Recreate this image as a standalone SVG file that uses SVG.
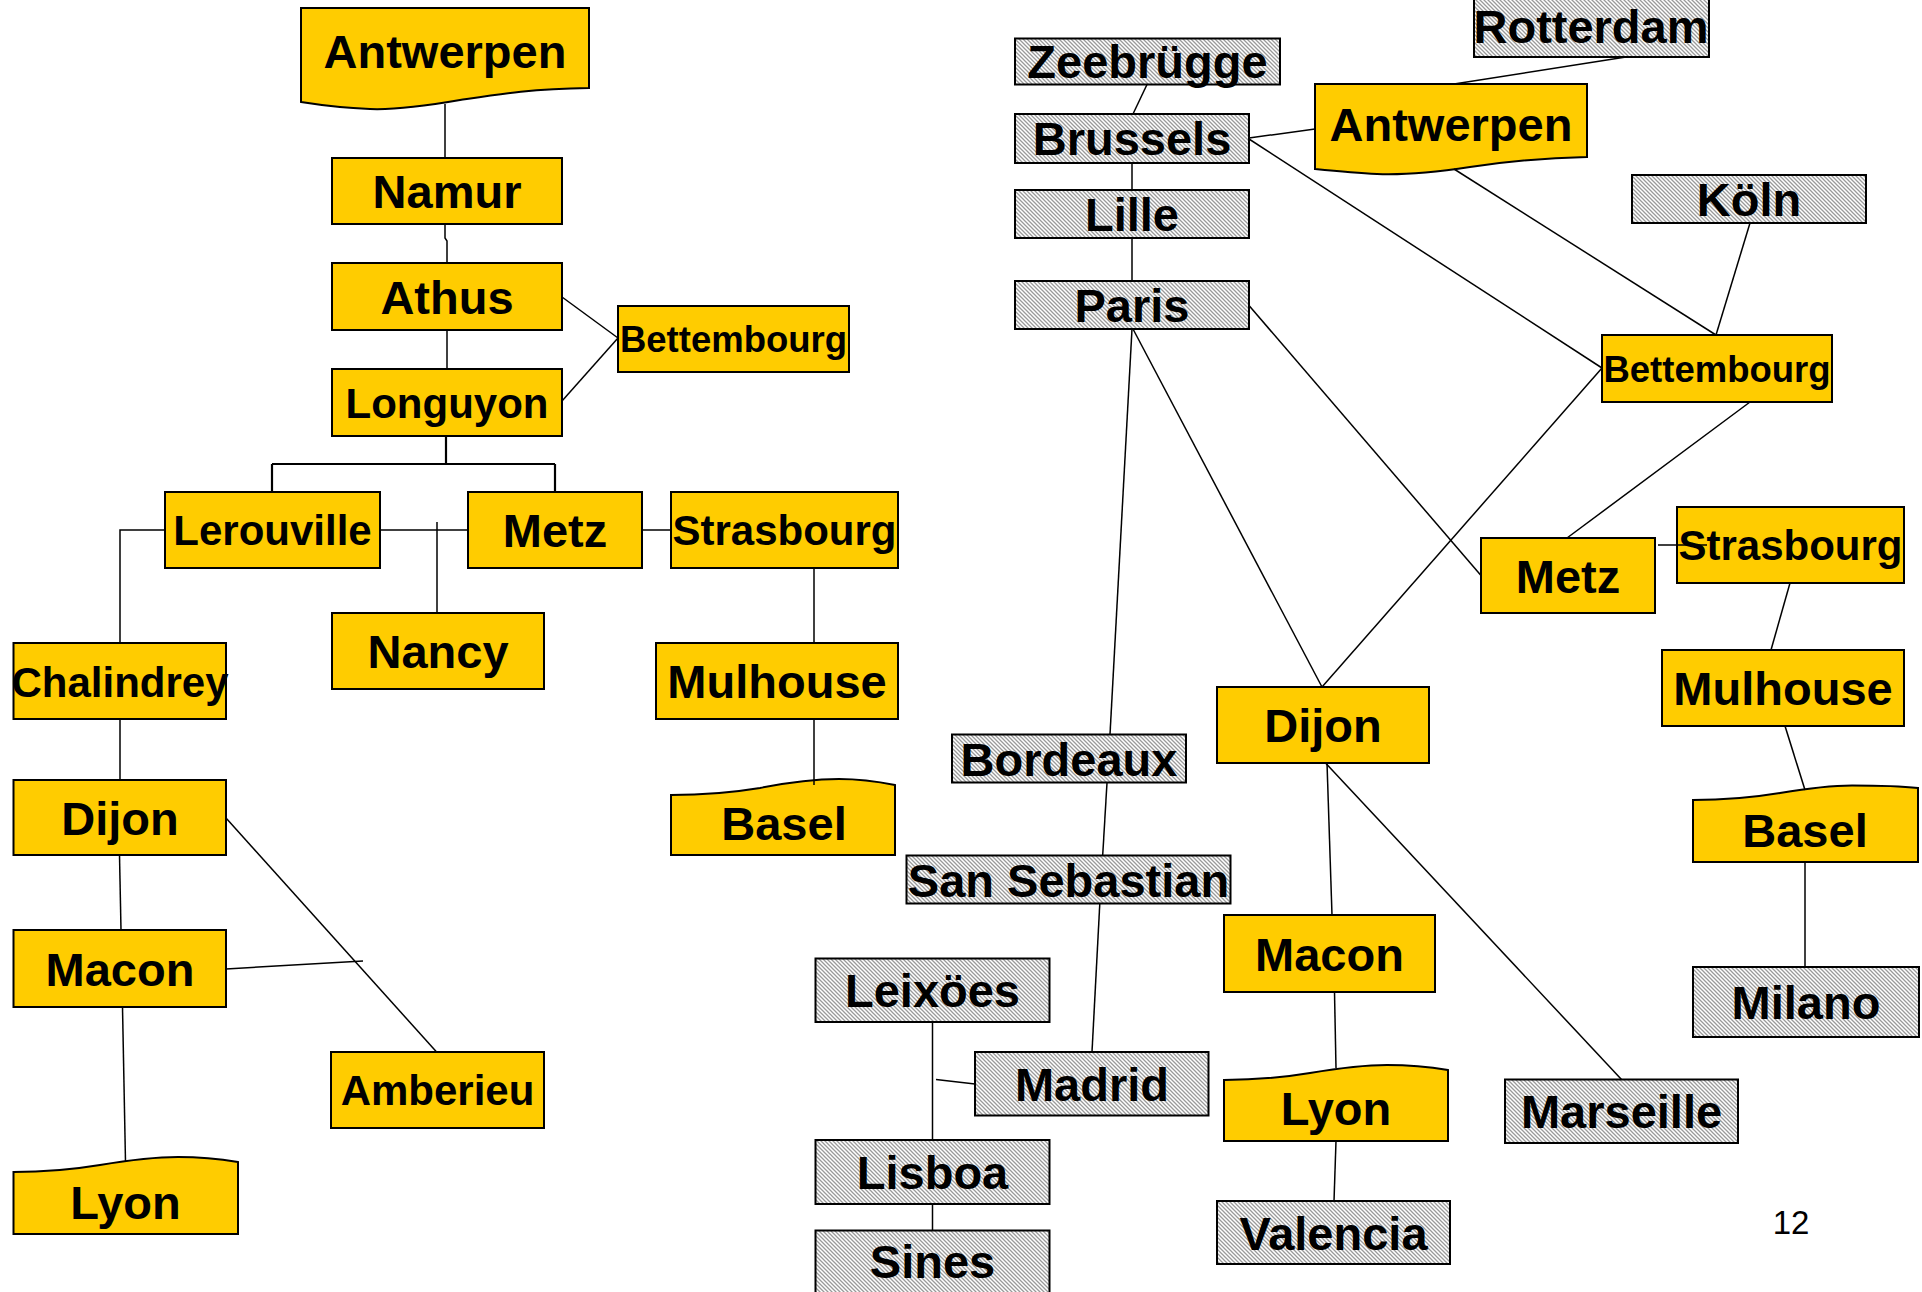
<svg xmlns="http://www.w3.org/2000/svg" width="1922" height="1292" viewBox="0 0 1922 1292">
<defs>
<pattern id="hatch" width="4" height="4" patternUnits="userSpaceOnUse">
<rect width="4" height="4" fill="#fff"/>
<path d="M-1,-1 L5,5 M-1,3 L1,5 M3,-1 L5,1" stroke="#9a9a9a" stroke-width="1.3"/>
</pattern>
</defs>
<style>
.y{fill:#FFCC00;stroke:#000;stroke-width:2}
.h{fill:url(#hatch);stroke:#000;stroke-width:2}
.t{font-family:"Liberation Sans",Arial,sans-serif;font-weight:bold;font-size:47px;text-anchor:middle;fill:#000}
.m{font-size:42px}
.s{font-size:36.5px}
.c{stroke:#000;stroke-width:1.5;fill:none}
.c2{stroke:#000;stroke-width:2.2;fill:none}
.n{font-family:"Liberation Sans",Arial,sans-serif;font-size:33px;text-anchor:middle;fill:#000}
</style>
<rect width="1922" height="1292" fill="#fff"/>

<g id="nodes-left">
<g id="L-Antwerpen"><path class="y" d="M301,8 H589 V88 C530,89 500,94 460,100 C420,107 395,110 370,109 C345,108 320,105 301,102 Z"/><text class="t" x="445" y="68">Antwerpen</text></g>
<g id="L-Namur"><rect class="y" x="332" y="158" width="230" height="66"/><text class="t" x="447" y="208">Namur</text></g>
<g id="L-Athus"><rect class="y" x="332" y="263" width="230" height="67"/><text class="t" x="447" y="313.5">Athus</text></g>
<g id="L-Longuyon"><rect class="y" x="332" y="369" width="230" height="67"/><text class="t m" x="447" y="418">Longuyon</text></g>
<g id="L-Bettembourg"><rect class="y" x="618" y="306" width="231" height="66"/><text class="t s" x="733.5" y="352">Bettembourg</text></g>
<g id="L-Lerouville"><rect class="y" x="165" y="492" width="215" height="76"/><text class="t m" x="272.5" y="545">Lerouville</text></g>
<g id="L-Metz"><rect class="y" x="468" y="492" width="174" height="76"/><text class="t" x="555" y="547">Metz</text></g>
<g id="L-Strasbourg"><rect class="y" x="671" y="492" width="227" height="76"/><text class="t m" x="784.5" y="545">Strasbourg</text></g>
<g id="L-Nancy"><rect class="y" x="332" y="613" width="212" height="76"/><text class="t" x="438" y="668">Nancy</text></g>
<g id="L-Chalindrey"><rect class="y" x="13.5" y="643" width="212.5" height="76"/><text class="t m" x="120" y="697">Chalindrey</text></g>
<g id="L-Mulhouse"><rect class="y" x="656" y="643" width="242" height="76"/><text class="t" x="777" y="698">Mulhouse</text></g>
<g id="L-Basel"><path class="y" d="M671,855 V795 C700,795 730,793 760,788 C790,782 815,779 839,779 C860,779 880,782 895,785 V855 Z"/><text class="t" x="784" y="840">Basel</text></g>
<g id="L-Dijon"><rect class="y" x="13.5" y="780" width="212.5" height="75"/><text class="t" x="120" y="834.5">Dijon</text></g>
<g id="L-Macon"><rect class="y" x="13.5" y="930" width="212.5" height="77"/><text class="t" x="120" y="985.5">Macon</text></g>
<g id="L-Amberieu"><rect class="y" x="331" y="1052" width="213" height="76"/><text class="t m" x="437.5" y="1105">Amberieu</text></g>
<g id="L-Lyon"><path class="y" d="M13.5,1234 V1172 C40,1172 70,1170 100,1165 C130,1160 155,1157 178,1157 C200,1157 220,1159 238,1162 V1234 Z"/><text class="t" x="125.5" y="1219">Lyon</text></g>
</g>

<g id="nodes-right">
<g id="R-Rotterdam"><rect class="h" x="1474" y="-4" width="235" height="61"/><text class="t" x="1591" y="43">Rotterdam</text></g>
<g id="R-Zeebrugge"><rect class="h" x="1015" y="38.5" width="265" height="46"/><text class="t" x="1147.5" y="77.5">Zeebrügge</text></g>
<g id="R-Brussels"><rect class="h" x="1015" y="114" width="234" height="49"/><text class="t" x="1132" y="154.5">Brussels</text></g>
<g id="R-Lille"><rect class="h" x="1015" y="190" width="234" height="48"/><text class="t" x="1132" y="231">Lille</text></g>
<g id="R-Paris"><rect class="h" x="1015" y="281" width="234" height="48"/><text class="t" x="1132" y="322">Paris</text></g>
<g id="R-Antwerpen"><path class="y" d="M1315,84 H1587 V157 C1540,158 1510,161 1470,167 C1430,173 1400,175 1377,174 C1355,173 1335,171 1315,169 Z"/><text class="t" x="1451" y="141">Antwerpen</text></g>
<g id="R-Koln"><rect class="h" x="1632" y="175" width="234" height="48"/><text class="t" x="1749" y="216">Köln</text></g>
<g id="R-Bettembourg"><rect class="y" x="1602" y="335" width="230" height="67"/><text class="t s" x="1717" y="381.5">Bettembourg</text></g>
<g id="R-Metz"><rect class="y" x="1481" y="538" width="174" height="75"/><text class="t" x="1568" y="592.5">Metz</text></g>
<g id="R-Strasbourg"><rect class="y" x="1677" y="507" width="227" height="76"/><text class="t m" x="1790.5" y="560">Strasbourg</text></g>
<g id="R-Mulhouse"><rect class="y" x="1662" y="650" width="242" height="76"/><text class="t" x="1783" y="705">Mulhouse</text></g>
<g id="R-Basel"><path class="y" d="M1693,862 V800 C1720,800 1750,798 1780,793 C1810,788 1830,785.5 1852,785.5 C1875,785.5 1900,786 1918,788 V862 Z"/><text class="t" x="1805" y="847">Basel</text></g>
<g id="R-Milano"><rect class="h" x="1693" y="967" width="226" height="70"/><text class="t" x="1806" y="1019">Milano</text></g>
<g id="R-Dijon"><rect class="y" x="1217" y="687" width="212" height="76"/><text class="t" x="1323" y="742">Dijon</text></g>
<g id="R-Macon"><rect class="y" x="1224" y="915" width="211" height="77"/><text class="t" x="1329.5" y="970.5">Macon</text></g>
<g id="R-Lyon"><path class="y" d="M1224,1141 V1080 C1250,1080 1280,1078 1310,1073 C1340,1068 1365,1065 1387,1065 C1410,1065 1430,1067 1448,1070 V1141 Z"/><text class="t" x="1336" y="1125">Lyon</text></g>
<g id="R-Valencia"><rect class="h" x="1217" y="1201" width="233" height="63"/><text class="t" x="1333.5" y="1249.5">Valencia</text></g>
<g id="R-Marseille"><rect class="h" x="1505" y="1079.5" width="233" height="63.5"/><text class="t" x="1621.5" y="1128">Marseille</text></g>
<g id="R-Bordeaux"><rect class="h" x="952" y="734.5" width="234" height="48"/><text class="t" x="1069" y="775.5">Bordeaux</text></g>
<g id="R-SanSebastian"><rect class="h" x="906.5" y="855.5" width="324" height="48"/><text class="t" x="1068.5" y="896.5">San Sebastian</text></g>
<g id="R-Leixoes"><rect class="h" x="815.5" y="958.5" width="234" height="63.5"/><text class="t" x="932.5" y="1007">Leixöes</text></g>
<g id="R-Madrid"><rect class="h" x="975" y="1052" width="233.5" height="63.5"/><text class="t" x="1092" y="1101">Madrid</text></g>
<g id="R-Lisboa"><rect class="h" x="815.5" y="1140" width="234" height="64"/><text class="t" x="932.5" y="1189">Lisboa</text></g>
<g id="R-Sines"><rect class="h" x="815.5" y="1230.5" width="234" height="80"/><text class="t" x="932.5" y="1278">Sines</text></g>
</g>

<g id="connectors">
<path class="c" d="M445,104 V158"/>
<path class="c" d="M445,224 V238 L447,241 V263"/>
<path class="c" d="M447,330 V369"/>
<path class="c" d="M562,297 L618,338"/>
<path class="c" d="M562,401 L618,338"/>
<path class="c2" d="M446,436 V464 M272,464 H555 M272,464 V492 M555,464 V492"/>
<path class="c" d="M380,530 H468"/>
<path class="c" d="M437,522 V613"/>
<path class="c" d="M642,530 H671"/>
<path class="c" d="M165,530 H120 V643"/>
<path class="c" d="M814,568 V643"/>
<path class="c" d="M814,719 V785"/>
<path class="c" d="M120,719 V780"/>
<path class="c" d="M119.5,855 L121,930"/>
<path class="c" d="M122.5,1007 L125.5,1162"/>
<path class="c" d="M226,818 L436.6,1052"/>
<path class="c" d="M226,969 L363,961"/>

<path class="c" d="M1147,84.5 L1133,114"/>
<path class="c" d="M1132,163 V190"/>
<path class="c" d="M1132,238 V281"/>
<path class="c" d="M1249,138 L1315,129"/>
<path class="c" d="M1626,57 L1454,84"/>
<path class="c" d="M1249,139 L1602,368"/>
<path class="c" d="M1454,169 L1716,335"/>
<path class="c" d="M1750,223 L1716,335"/>
<path class="c" d="M1602,368 L1322,687"/>
<path class="c" d="M1750,402 L1567,538"/>
<path class="c" d="M1249,305.5 L1481,575.5"/>
<path class="c" d="M1658,545 L1707,545"/>
<path class="c" d="M1790,583 L1771,650"/>
<path class="c" d="M1785,726 L1805,790"/>
<path class="c" d="M1805,862 V967"/>
<path class="c" d="M1133,329 L1322,687"/>
<path class="c" d="M1132,329 L1110,734.5"/>
<path class="c" d="M1107,782.5 L1102.7,855.5"/>
<path class="c" d="M1099.8,903.5 L1092,1052"/>
<path class="c" d="M932.5,1022 V1140"/>
<path class="c" d="M975,1084 L936,1079.5"/>
<path class="c" d="M932.5,1204 V1230.5"/>
<path class="c" d="M1327,763 L1332,915"/>
<path class="c" d="M1334.5,992 L1336,1068"/>
<path class="c" d="M1336,1141 L1334,1201"/>
<path class="c" d="M1326,763.5 L1621.5,1079.5"/>
</g>

<text class="n" x="1791" y="1234">12</text>
</svg>
